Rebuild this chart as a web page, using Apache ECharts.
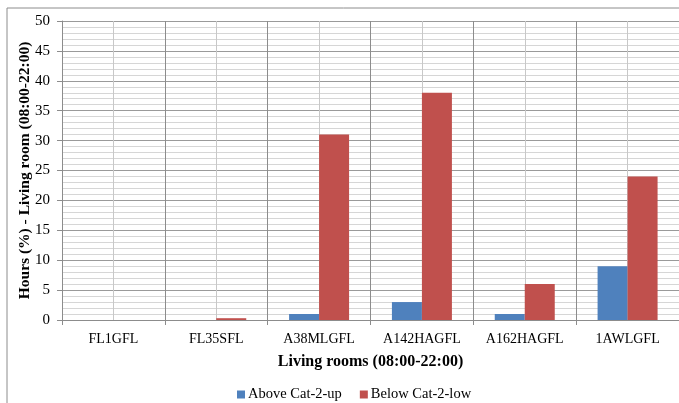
<!DOCTYPE html>
<html>
<head>
<meta charset="utf-8">
<script src="https://cdn.jsdelivr.net/npm/echarts@6/dist/echarts.min.js"></script>
<style>
  html, body { margin: 0; padding: 0; background: #fff; }
  #chart { width: 679px; height: 403px; }
</style>
</head>
<body>
<div id="chart"></div>
<script>
// living rooms (08:00-22:00)
var rooms = ['FL1GFL', 'FL35SFL', 'A38MLGFL', 'A142HAGFL', 'A162HAGFL', '1AWLGFL'];
var aboveCat2Up = [0, 0, 1, 3, 1, 9];
var belowCat2Low = [0, 0.3, 31, 38, 6, 24];
var yTicks = { min: 0, max: 50, step: 5 };

// half-category slots, only used to draw the light middle lines
var halfSlots = [];
for (var i = 0; i < rooms.length * 2; i++) halfSlots.push('');

var serif = '"Liberation Serif", "Times New Roman", serif';

var chart = echarts.init(document.getElementById('chart'));
var option = {
    animation: false,
    backgroundColor: '#fff',
    textStyle: { fontFamily: serif },
    graphic: [{
        type: 'rect',
        shape: { x: 7, y: 8, width: 700, height: 420 },
        style: { fill: 'none', stroke: '#8c8c8c', lineWidth: 1 },
        z: -1
    }],
    grid: { left: 62, top: 21, width: 618, height: 299 },
    legend: {
        top: 382,
        left: 232,
        icon: 'rect',
        itemWidth: 8,
        itemHeight: 8,
        itemGap: 18,
        textStyle: { fontFamily: serif, fontSize: 14.5, color: '#000', padding: [0, 0, 0, -2] },
        data: ['Above Cat-2-up', 'Below Cat-2-low']
    },
    xAxis: [{
        type: 'category',
        data: rooms,
        name: 'Living rooms (08:00-22:00)',
        nameLocation: 'middle',
        nameGap: 34,
        nameMoveOverlap: false,
        nameTextStyle: { fontFamily: serif, fontSize: 16, fontWeight: 'bold', color: '#000' },
        axisLine: { lineStyle: { color: '#8c8c8c' } },
        axisTick: { show: true, length: 5, lineStyle: { color: '#8c8c8c' } },
        axisLabel: { fontFamily: serif, fontSize: 14, color: '#000', margin: 12 },
        splitLine: { show: true, lineStyle: { color: '#8c8c8c' } }
    }, {
        type: 'category',
        data: halfSlots,
        position: 'bottom',
        axisLine: { show: false },
        axisTick: { show: false },
        axisLabel: { show: false },
        splitLine: {
            show: true,
            interval: function (idx) { return idx % 2 === 1; },
            lineStyle: { color: '#c8c8c8' }
        }
    }],
    yAxis: {
        type: 'value',
        min: yTicks.min,
        max: yTicks.max,
        interval: yTicks.step,
        name: 'Hours (%) - Living room (08:00-22:00)',
        nameLocation: 'middle',
        nameGap: 29,
        nameMoveOverlap: false,
        nameTextStyle: { fontFamily: serif, fontSize: 15.5, fontWeight: 'bold', color: '#000' },
        axisLine: { show: true, lineStyle: { color: '#8c8c8c' } },
        axisTick: { show: true, length: 5, lineStyle: { color: '#8c8c8c' } },
        axisLabel: { fontFamily: serif, fontSize: 15, color: '#000', margin: 12 },
        splitLine: { lineStyle: { color: '#9a9a9a' } },
        minorTick: { show: false, splitNumber: 5 },
        minorSplitLine: { show: true, lineStyle: { color: '#d6d6d6' } }
    },
    series: [{
        name: 'Above Cat-2-up',
        type: 'bar',
        data: aboveCat2Up,
        barWidth: 30,
        barGap: '0%',
        itemStyle: { color: '#4f81bd' },
        z: 3
    }, {
        name: 'Below Cat-2-low',
        type: 'bar',
        data: belowCat2Low,
        barWidth: 30,
        barGap: '0%',
        itemStyle: { color: '#c0504d' },
        z: 3
    }]
};
chart.setOption(option);
</script>
</body>
</html>
